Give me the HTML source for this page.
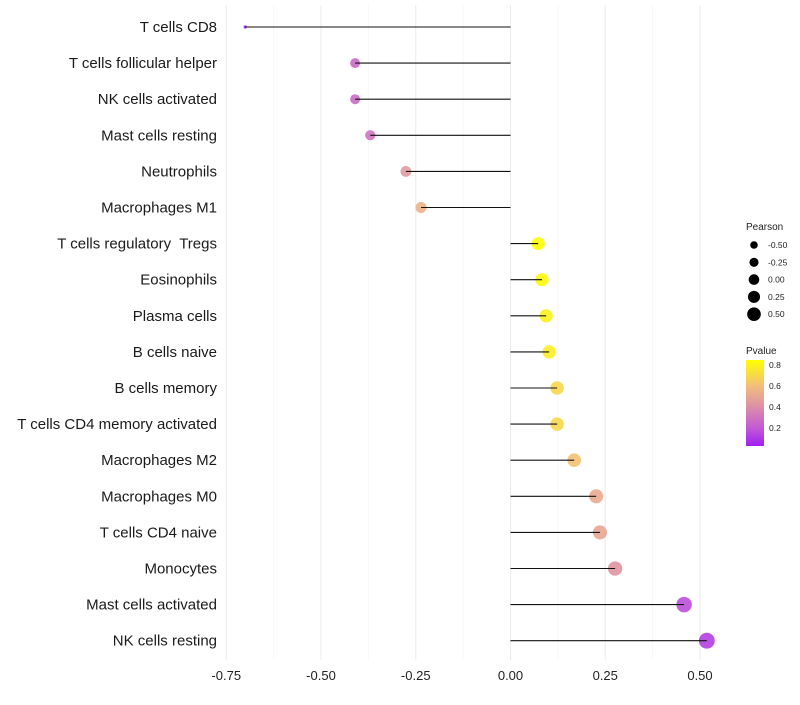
<!DOCTYPE html>
<html><head><meta charset="utf-8"><style>
body{margin:0;background:#fff;font-family:"Liberation Sans",sans-serif}
</style></head><body>
<svg id="chart" width="800" height="700" xmlns="http://www.w3.org/2000/svg" font-family="Liberation Sans, sans-serif">
<g id="grid"></g>
<g id="dots"></g>
<g id="marks"></g>
<g id="ylabels"></g>
<g id="xlabels"></g>
<g id="legend"></g>
</svg>
<script>
const categories=["T cells CD8","T cells follicular helper","NK cells activated","Mast cells resting","Neutrophils","Macrophages M1","T cells regulatory  Tregs","Eosinophils","Plasma cells","B cells naive","B cells memory","T cells CD4 memory activated","Macrophages M2","Macrophages M0","T cells CD4 naive","Monocytes","Mast cells activated","NK cells resting"];
const pearson=[-0.70,-0.41,-0.41,-0.37,-0.276,-0.236,0.073,0.083,0.094,0.102,0.123,0.123,0.168,0.226,0.236,0.276,0.458,0.518];
const pvalue=[0.03,0.27,0.27,0.3,0.45,0.55,0.85,0.83,0.8,0.78,0.7,0.7,0.62,0.52,0.5,0.43,0.17,0.12];
const xTicks=[-0.75,-0.5,-0.25,0,0.25,0.5];
const xTickLabels=["-0.75","-0.50","-0.25","0.00","0.25","0.50"];
const sizeLegend=[-0.5,-0.25,0,0.25,0.5];
const sizeLegendLabels=["-0.50","-0.25","0.00","0.25","0.50"];
const pTicks=[0.8,0.6,0.4,0.2];

const NS="http://www.w3.org/2000/svg";
const x=v=>510.5+v*379;
const y=i=>27+i*36.1;
const r=v=>v<-0.6?1.6:6.3+3.2*v;
const stops=[[0.03,[160,32,240]],[0.2,[194,89,214]],[0.4,[220,142,168]],[0.6,[242,189,124]],[0.85,[255,255,0]]];
function col(p){p=Math.max(0.03,Math.min(0.85,p));for(let k=0;k<stops.length-1;k++){const a=stops[k],b=stops[k+1];if(p<=b[0]){const t=(p-a[0])/(b[0]-a[0]);return 'rgb('+a[1].map((c,j)=>Math.round(c+(b[1][j]-c)*t)).join(',')+')';}}return 'rgb(255,255,0)';}
const py=p=>446-(p-0.03)/(0.82)*86;
function mk(tag,attrs,parent){const e=document.createElementNS(NS,tag);for(const k in attrs)e.setAttribute(k,attrs[k]);document.getElementById(parent).appendChild(e);return e;}

for(let v=-0.75;v<=0.5001;v+=0.125){const major=Math.abs((v/0.25)-Math.round(v/0.25))<1e-6;
const g=mk('line',{x1:x(v),x2:x(v),y1:5,y2:660,stroke:major?'#ebebeb':'#f4f4f4','stroke-width':major?1:0.6},'grid');

}
xTicks.forEach((v,i)=>{const t=mk('text',{x:x(v),y:680,'text-anchor':'middle','font-size':13,fill:'#222'},'xlabels');t.textContent=xTickLabels[i];

});
categories.forEach((c,i)=>{
const t=mk('text',{x:217,y:y(i)+5,'text-anchor':'end','font-size':15,fill:'#1a1a1a','xml:space':'preserve'},'ylabels');t.style.whiteSpace='pre';t.textContent=c;


const d=mk('circle',{cx:x(pearson[i]),cy:y(i),r:r(pearson[i]),fill:col(pvalue[i]),'fill-opacity':0.9},'dots');


const l=mk('line',{x1:x(0),x2:x(pearson[i]),y1:y(i),y2:y(i),stroke:'#111','stroke-width':1.1},'marks');


});
let t=mk('text',{x:746,y:230,'font-size':10,fill:'#222'},'legend');t.textContent='Pearson';


sizeLegend.forEach((v,i)=>{const cy=245+i*17.3;
const c=mk('circle',{cx:754,cy:cy,r:5.3+3*v,fill:'#000'},'legend');


const tt=mk('text',{x:768,y:cy+3,'font-size':8.5,fill:'#222'},'legend');tt.textContent=sizeLegendLabels[i];

});
t=mk('text',{x:746,y:354,'font-size':10,fill:'#222'},'legend');t.textContent='Pvalue';


const defs=mk('defs',{},'legend');defs.innerHTML='<linearGradient id="pg" x1="0" y1="1" x2="0" y2="0">'+stops.map(s=>'<stop offset="'+((s[0]-0.03)/0.82)+'" stop-color="rgb('+s[1].join(',')+')"/>').join('')+'</linearGradient>';
const bar=mk('rect',{x:746,y:360,width:18,height:86,fill:'url(#pg)'},'legend');


pTicks.forEach(p=>{const tt=mk('text',{x:769,y:py(p)+3,'font-size':8.5,fill:'#222'},'legend');tt.textContent=String(p);

});
</script>
</body></html>
